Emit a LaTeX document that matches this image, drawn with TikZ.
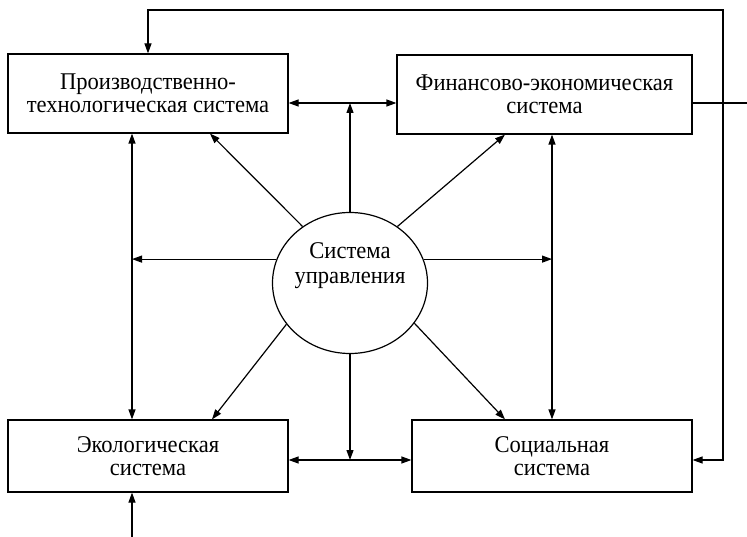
\documentclass[tikz,border=0pt]{standalone}
\usepackage{fontspec}
\setmainfont{Liberation Serif}[FakeStretch=0.94]
\usetikzlibrary{shapes.geometric,arrows.meta}

\begin{document}
\begin{tikzpicture}[
    x=1pt, y=-1pt,
    line width=1.2pt,
    sysbox/.style={rectangle, draw, minimum height=79pt, inner sep=0pt, align=center, font=\fontsize{24}{23}\selectfont},
    ctrlell/.style={ellipse, draw, minimum width=155pt, minimum height=141pt, inner sep=0pt},
    link/.style={-{Triangle[length=10pt,width=7pt]}},
    twoway/.style={{Triangle[length=10pt,width=7pt]}-{Triangle[length=10pt,width=7pt]}}
]
\useasboundingbox (0,0) rectangle (747,537);

% systems
\node[sysbox, minimum width=280pt] (prod) at (148,93.5) {Производственно-\\технологическая система};
\node[sysbox, minimum width=295pt] (fin) at (544.5,94.5) {Финансово-экономическая\\система};
\node[sysbox, minimum width=280pt, minimum height=72pt] (eco) at (148,456) {Экологическая\\система};
\node[sysbox, minimum width=280pt, minimum height=72pt] (soc) at (552,456) {Социальная\\система};

% control
\node[ctrlell] (ctrl) at (350,283) {};
\node[font=\fontsize{24}{25}\selectfont, align=center, inner sep=0pt] (ctrltxt) at (350,266) {Система\\управления};

% junction points
\coordinate (tj) at (350,103);
\coordinate (bj) at (350,460);
\coordinate (lv) at (132,258);
\coordinate (rv) at (552,258);
\coordinate (fb) at (723,10);
\coordinate (out) at (747,103);
\coordinate (in) at (132,537);

% links between systems
\draw[twoway] (prod.east |- tj) -- (fin.west |- tj);
\draw[twoway] (eco.east |- bj) -- (soc.west |- bj);
\draw[twoway] (prod.south -| lv) -- (eco.north -| lv);
\draw[twoway] (fin.south -| rv) -- (soc.north -| rv);

% links from control
\draw[link] (ctrl.north) -- (tj);
\draw[link] (ctrl.south) -- (bj);
\draw[link] (ctrl.162) -- (ctrl.162 -| lv);
\draw[link] (ctrl.18) -- (ctrl.18 -| rv);
\draw[link] (ctrl.130) -- (prod.south -| 210,0);
\draw[link] (ctrl.50) -- (fin.south -| 505,0);
\draw[link] (ctrl.213) -- (eco.north -| 212,0);
\draw[link] (ctrl.328) -- (soc.north -| 505,0);

% outer loop
\draw[twoway] (prod.north) |- (fb) |- (soc.east |- bj);
\draw (fin.east |- tj) -- (out);
\draw[link] (in) -- (eco.south -| in);
\end{tikzpicture}
\end{document}
